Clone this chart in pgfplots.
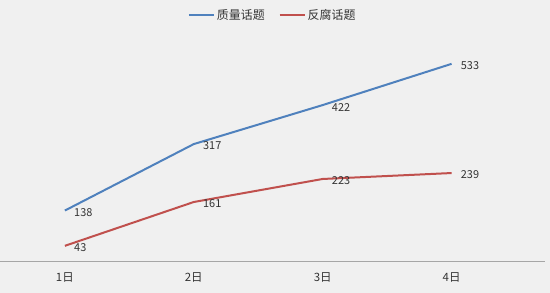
\documentclass[border=0pt]{standalone}
\usepackage{fontspec}
\setmainfont{Noto Sans CJK SC}
\usepackage{pgfplots}
\pgfplotsset{compat=1.18}
\definecolor{bgc}{HTML}{F0F0F0}
\definecolor{blueL}{HTML}{4F81BD}
\definecolor{redL}{HTML}{C0504D}
\definecolor{axc}{HTML}{A6A6A6}
\definecolor{txt}{HTML}{333333}
\begin{document}
\begin{tikzpicture}[x=1bp,y=1bp]
\fill[bgc] (0,-31) rectangle (550,262);
\begin{axis}[
  at={(0,0)}, anchor=south west,
  scale only axis, width=545bp, height=223bp,
  xmin=-0.5, xmax=3.725, ymin=0, ymax=600,
  axis line style={draw=none},
  axis y line=none,
  axis x line*=bottom,
  xtick={0,1,2,3}, xticklabels={1日,2日,3日,4日},
  major tick length=0pt,
  ytick=\empty,
  ticklabel style={font=\fontsize{11.5}{13}\selectfont, text=txt},
  xticklabel style={yshift=-7bp},
  /pgf/number format/assume math mode=true,
  clip=false,
  legend columns=2,
  legend style={at={(0.5,1.108)}, anchor=center, draw=none, fill=none,
    font=\fontsize{12}{14}\selectfont, text=txt, inner sep=0pt,
    /tikz/every even column/.append style={column sep=12bp}},
  legend image code/.code={\draw[#1] (0bp,0bp) -- (25bp,0bp);},
  nodes near coords,
  every node near coord/.append style={anchor=west, xshift=5bp, yshift=-2bp,
    font=\fontsize{11}{13}\selectfont, text=txt},
]
\draw[axc, line width=0.9bp] (axis cs:-0.5,0) -- (axis cs:3.725,0);
\addplot[blueL, line width=2bp, mark=none] coordinates {(0,138) (1,317) (2,422) (3,533)};
\addlegendentry{质量话题}
\addplot[redL, line width=2bp, mark=none] coordinates {(0,43) (1,161) (2,223) (3,239)};
\addlegendentry{反腐话题}
\end{axis}
\end{tikzpicture}
\end{document}
